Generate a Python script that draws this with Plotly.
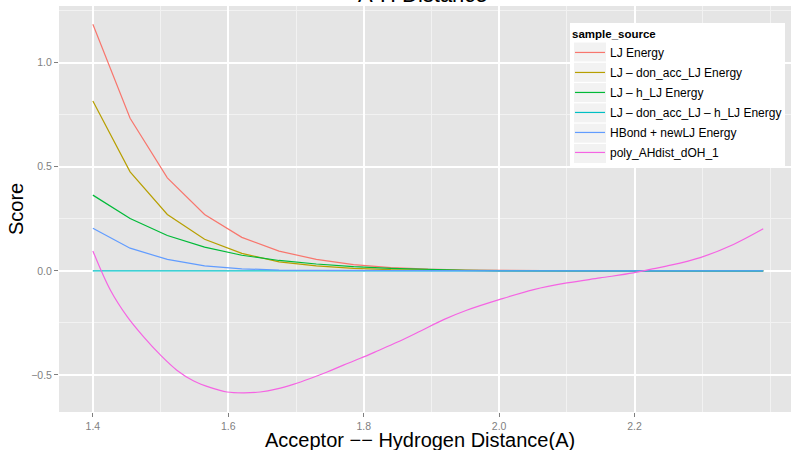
import plotly.graph_objects as go

# ---- data ----
x_energy = [1.4, 1.455, 1.51, 1.565, 1.62, 1.675, 1.73, 1.785, 1.84, 1.895,
            1.95, 2.005, 2.06, 2.115, 2.17, 2.225, 2.28, 2.335, 2.39]
lj_energy = [1.185, 0.733, 0.447, 0.271, 0.161, 0.095, 0.055, 0.030, 0.016, 0.008,
             0.004, 0.002, 0.001, 0, 0, 0, 0, 0, 0]
lj_don_acc = [0.816, 0.476, 0.271, 0.152, 0.084, 0.043, 0.024, 0.012, 0.006, 0.003,
              0.001, 0, 0, 0, 0, 0, 0, 0, 0]
lj_h = [0.364, 0.252, 0.170, 0.114, 0.075, 0.050, 0.033, 0.020, 0.012, 0.006,
        0.003, 0.001, 0, 0, 0, 0, 0, 0, 0]
lj_don_acc_h = [0] * 19
hbond_newlj = [0.205, 0.109, 0.055, 0.024, 0.010, 0.004, 0.002, 0.001, 0, 0,
               0, 0, 0, 0, 0, 0, 0, 0, 0]

x_poly = [1.40, 1.426, 1.451, 1.475, 1.50, 1.524, 1.549, 1.574, 1.598, 1.623,
          1.647, 1.672, 1.696, 1.721, 1.746, 1.77, 1.795, 1.82, 1.85, 1.88,
          1.918, 1.952, 2.0, 2.051, 2.10, 2.149, 2.198, 2.223, 2.247, 2.297,
          2.346, 2.39]
y_poly = [0.096, -0.093, -0.221, -0.317, -0.405, -0.477, -0.529, -0.561, -0.582, -0.586,
          -0.582, -0.567, -0.545, -0.517, -0.486, -0.453, -0.420, -0.385, -0.342, -0.295,
          -0.234, -0.189, -0.138, -0.090, -0.058, -0.034, -0.010, 0.007, 0.023, 0.064,
          0.127, 0.202]

series_names = ["LJ Energy", "LJ \u2013 don_acc_LJ Energy", "LJ \u2013 h_LJ Energy",
                "LJ \u2013 don_acc_LJ \u2013 h_LJ Energy", "HBond + newLJ Energy",
                "poly_AHdist_dOH_1"]
colors = ["#F8766D", "#B79F00", "#00BA38", "#00BFC4", "#619CFF", "#F564E3"]

x_ticks = [1.4, 1.6, 1.8, 2.0, 2.2]
x_ticktext = ["1.4", "1.6", "1.8", "2.0", "2.2"]
x_minor = [1.5, 1.7, 1.9, 2.1, 2.3, 2.4]
y_ticks = [-0.5, 0.0, 0.5, 1.0]
y_ticktext = ["\u22120.5", "0.0", "0.5", "1.0"]
y_minor = [-0.25, 0.25, 0.75, 1.25]

FONT = "Liberation Sans, Arial, sans-serif"

# ---- geometry helpers (pixels -> paper) ----
W, H = 791, 450
ML, MT, MB = 59, 6, 38
PW, PH = W - ML, H - MT - MB


def px(x):
    return (x - ML) / PW


def py(y):
    return (H - MB - y) / PH


fig = go.Figure()
ys = [lj_energy, lj_don_acc, lj_h, lj_don_acc_h, hbond_newlj]
for i, (name, y, c) in enumerate(zip(series_names[:5], ys, colors[:5])):
    fig.add_trace(go.Scatter(x=x_energy, y=y, mode="lines", name=name, legendgroup=f"g{i}",
                             line=dict(color=c, width=1.2)))
fig.add_trace(go.Scatter(x=x_poly, y=y_poly, mode="lines", name=series_names[5],
                         legendgroup="g5",
                         line=dict(color=colors[5], width=1.2, shape="spline")))

axis_common = dict(
    showline=False, zeroline=False, ticks="outside", ticklen=4, tickwidth=1,
    tickcolor="#7F7F7F", tickfont=dict(family=FONT, size=10.5, color="#7F7F7F"),
    showgrid=True, gridcolor="#FFFFFF", gridwidth=1.6,
)

# legend box and key backgrounds (ggplot style)
shapes = [dict(type="rect", xref="paper", yref="paper", layer="above",
               x0=px(570), x1=px(785), y0=py(23), y1=py(166),
               fillcolor="#FFFFFF", line=dict(width=0))]
for k in range(6):
    yc = 52 + k * 20.3
    shapes.append(dict(type="rect", xref="paper", yref="paper", layer="above",
                       x0=px(574), x1=px(606), y0=py(yc - 9.5), y1=py(yc + 9.5),
                       fillcolor="#F2F2F2", line=dict(width=0)))

fig.update_layout(
    width=W, height=H,
    margin=dict(l=ML, r=0, t=MT, b=MB),
    plot_bgcolor="#E5E5E5", paper_bgcolor="#FFFFFF",
    font=dict(family=FONT),
    xaxis=dict(range=[1.35, 2.431], tickmode="array", tickvals=x_ticks,
               ticktext=x_ticktext,
               minor=dict(tickmode="array", tickvals=x_minor, showgrid=True,
                          gridcolor="#F2F2F2", gridwidth=0.8, ticks=""),
               **axis_common),
    yaxis=dict(range=[-0.678, 1.2726], tickmode="array", tickvals=y_ticks,
               ticktext=y_ticktext,
               minor=dict(tickmode="array", tickvals=y_minor, showgrid=True,
                          gridcolor="#F2F2F2", gridwidth=0.8, ticks=""),
               **axis_common),
    legend=dict(x=px(570), y=py(23), xanchor="left", yanchor="top",
                bgcolor="rgba(0,0,0,0)", borderwidth=0, tracegroupgap=1,
                font=dict(family=FONT, size=12, color="#000000"),
                title=dict(text="<b>sample_source</b>",
                           font=dict(family=FONT, size=11.5, color="#000000"))),
    showlegend=True,
    shapes=shapes,
)
fig.add_annotation(text="A-H Distance", xref="paper", yref="paper", x=0.497, y=1,
                   xanchor="center", yanchor="bottom", yshift=-3, showarrow=False,
                   font=dict(family=FONT, size=22, color="#000000"))
fig.add_annotation(text="Acceptor \u2212\u2212 Hydrogen Distance(A)", xref="paper",
                   yref="paper", x=px(419.5), y=py(440), xanchor="center",
                   yanchor="middle", showarrow=False,
                   font=dict(family=FONT, size=20, color="#000000"))
fig.add_annotation(text="Score", xref="paper", yref="paper", x=px(16), y=0.5,
                   xanchor="center", yanchor="middle", textangle=-90, showarrow=False,
                   font=dict(family=FONT, size=20, color="#000000"))

fig.write_html("out.html", config={"displayModeBar": False},
               post_script="document.body.style.margin='0';")
